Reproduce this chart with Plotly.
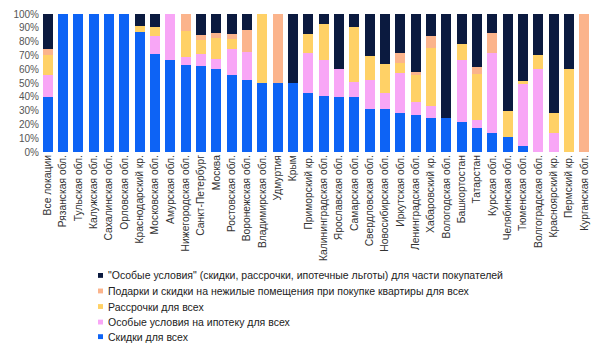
import plotly.graph_objects as go

categories = ["Все локации", "Рязанская обл.", "Тульская обл.", "Калужская обл.", "Сахалинская обл.",
              "Орловская обл.", "Краснодарский кр.", "Московская обл.", "Амурская обл.", "Нижегородская обл.",
              "Санкт-Петербург", "Москва", "Ростовская обл.", "Воронежская обл.", "Владимирская обл.",
              "Удмуртия", "Крым", "Приморский кр.", "Калининградская обл.", "Ярославская обл.",
              "Самарская обл.", "Свердловская обл.", "Новосибирская обл.", "Иркутская обл.", "Ленинградская обл.",
              "Хабаровский кр.", "Вологодская обл.", "Башкортостан", "Татарстан", "Курская обл.",
              "Челябинская обл.", "Тюменская обл.", "Волгоградская обл.", "Красноярский кр.", "Пермский кр.",
              "Курганская обл."]

discounts_all = [40, 100, 100, 100, 100, 100, 87, 71, 67, 63, 62, 60.5, 56, 52.5, 50, 50, 50, 43, 40.5, 40,
                 40, 31, 31, 28.5, 26.5, 25, 25, 22, 17.5, 14, 11, 4.5, 0, 0, 0, 0]
mortgage_all = [15.5, 0, 0, 0, 0, 0, 0, 13, 33, 6, 9, 7, 18.5, 20, 0, 0, 0, 28.5, 26.5, 20,
                10.5, 21, 12, 28.5, 10, 8.5, 0, 45, 5.5, 57.5, 0, 45, 60, 14, 0, 0]
installments_all = [15, 0, 0, 0, 0, 0, 4.5, 6.5, 0, 19, 10.5, 15, 7.5, 0, 50, 0, 0, 14, 26, 0,
                    40, 17.5, 20.5, 7.5, 19.5, 42, 0, 11, 33.5, 0, 18.5, 2, 10.5, 14.5, 60, 0]
gifts_all = [4, 0, 0, 0, 0, 0, 0, 0, 0, 12, 3.5, 3.5, 3.5, 16, 0, 50, 0, 0, 0, 0,
             0, 0, 0, 7, 2, 8.5, 0, 0, 5, 14.5, 0, 0, 0, 0, 0, 100]
special_part = [25.5, 0, 0, 0, 0, 0, 8.5, 9.5, 0, 0, 15, 14, 14.5, 11.5, 0, 0, 50, 14.5, 7, 40,
                9.5, 30.5, 36.5, 28.5, 42, 16, 75, 22, 38.5, 14, 70.5, 48.5, 29.5, 71.5, 40, 0]

series_names = ["Скидки для всех",
                "Особые условия на ипотеку для всех",
                "Рассрочки для всех",
                "Подарки и скидки на нежилые помещения при покупке квартиры для всех",
                "\"Особые условия\" (скидки, рассрочки, ипотечные льготы) для части покупателей"]
series_values = [discounts_all, mortgage_all, installments_all, gifts_all, special_part]
series_colors = ["#0D63F5", "#F8A6F6", "#FFD166", "#FBB48C", "#0B1A3F"]

W, H = 600, 353
ML, MR, MT, MB = 40, 8, 10, 201

fig = go.Figure()
for name, vals, col in zip(series_names, series_values, series_colors):
    fig.add_trace(go.Bar(x=categories, y=vals, name=name, marker=dict(color=col, line=dict(width=0)),
                         showlegend=False))

# legend built from annotations (top-to-bottom reversed order)
pw = W - ML - MR
ph = H - MT - MB
leg_text_x = 106
leg_rows = [279, 295, 311, 327, 342]
annotations = []
shapes = []
for i, idx in enumerate(reversed(range(len(series_names)))):
    ypx = leg_rows[i]
    yp = (H - MB - ypx) / ph
    annotations.append(dict(text=series_names[idx], xref="paper", yref="paper",
                            x=(leg_text_x - ML) / pw, y=yp, xanchor="left", yanchor="middle",
                            showarrow=False, font=dict(size=10.5, color="#222222", family="Liberation Sans, Arial")))
    shapes.append(dict(type="rect", xref="paper", yref="paper",
                       x0=(98 - ML) / pw, x1=(103 - ML) / pw,
                       y0=(H - MB - (ypx + 2.5)) / ph, y1=(H - MB - (ypx - 2.5)) / ph,
                       fillcolor=series_colors[idx], line=dict(width=0)))

fig.update_layout(
    width=W, height=H,
    barmode="stack", barnorm="percent", bargap=0.35,
    margin=dict(l=ML, r=MR, t=MT, b=MB),
    paper_bgcolor="white", plot_bgcolor="white",
    font=dict(family="Liberation Sans, Arial", size=10, color="#444444"),
    annotations=annotations, shapes=shapes,
    xaxis=dict(type="category", tickangle=-90, showgrid=False, showline=False, ticks="",
               tickfont=dict(size=10.3, color="#333333"), range=[-0.5, 35.5]),
    yaxis=dict(range=[0, 100], dtick=10, ticksuffix="%", showgrid=False, zeroline=False, showline=False,
               tickfont=dict(size=10, color="#555555")),
)

fig.write_html("out.html")
